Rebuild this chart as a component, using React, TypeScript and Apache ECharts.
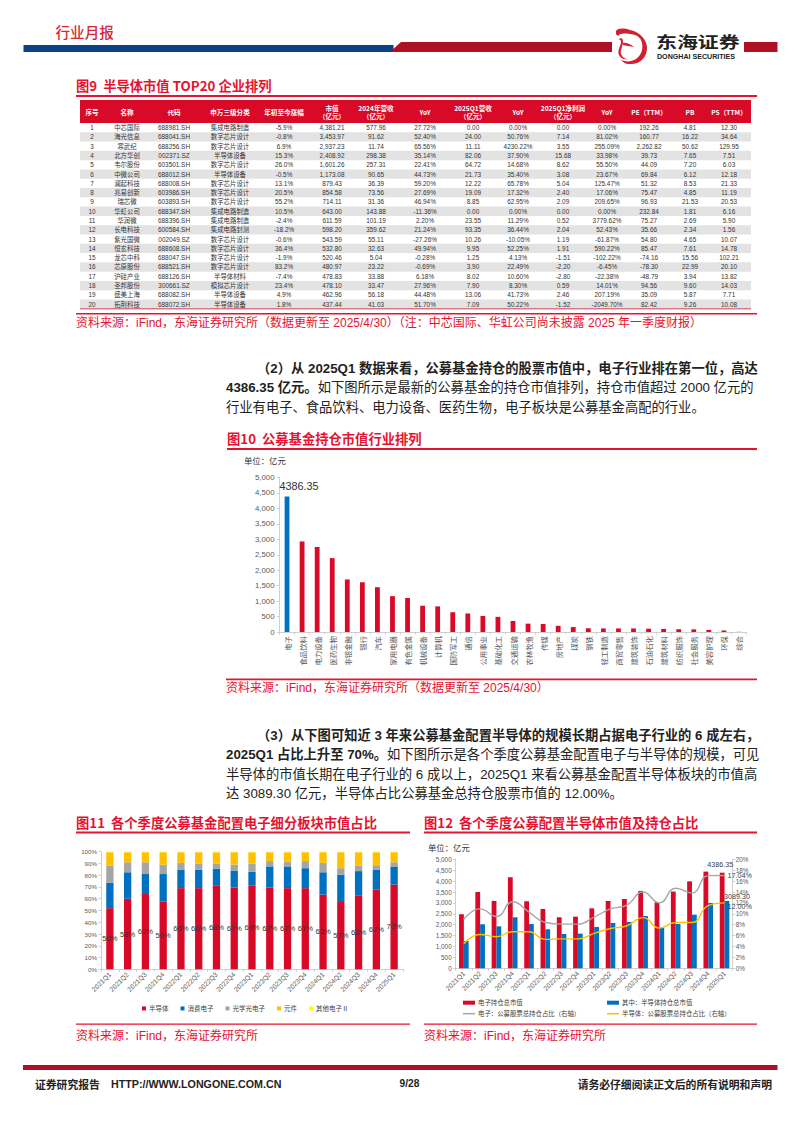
import React, { useEffect, useRef } from "react";
import * as echarts from "echarts";

const FONT = '"Liberation Sans","Noto Sans CJK SC",sans-serif';
const CJK = '"Noto Sans CJK SC","Liberation Sans",sans-serif';
const RED = "#d90a27";
const BLUE = "#0070c0";
const TITLE_RED = "#e5132f";

echarts.graphic.registerShape(
  "dhLogo",
  echarts.graphic.extendPath(
    "M15,2 C26,4 32,13 32,20 C32,30 24,37 14,36 C10,36 8,34 6,32 C11,34 16,34 21,31 C27,27 29,19 26,12 C24,8 19,6 14,6 Z M1,3 C3,0 9,0 15,2 L15,6 C10,5 7,6 5,6 C4,8 2,8 1,6 Z M3,12 C6,9 8,10 8,14 C8,18 5,22 6,26 C7,29 10,31 13,31 C10,32 6,31 4,27 C2,22 6,18 6,14 C6,12 5,11 3,12 Z M8,15 C12,14 16,17 19,19 C15,18 11,18 8,17 Z",
    {}
  )
);

const tableHeaders = ["序号", "名称", "代码", "申万三级分类", "年初至今涨幅", "市值\n（亿元）", "2024年营收\n（亿元）", "YoY", "2025Q1营收\n（亿元）", "YoY", "2025Q1净利润\n（亿元）", "YoY", "PE（TTM）", "PB", "PS（TTM）"];
const tableRows = [
  ["1", "中芯国际", "688981.SH", "集成电路制造", "-5.9%", "4,381.21", "577.96", "27.72%", "0.00", "0.00%", "0.00", "0.00%", "192.26", "4.81", "12.30"],
  ["2", "海光信息", "688041.SH", "数字芯片设计", "-0.8%", "3,453.97", "91.62", "52.40%", "24.00", "50.76%", "7.14", "81.02%", "160.77", "16.22", "34.64"],
  ["3", "寒武纪", "688256.SH", "数字芯片设计", "6.9%", "2,937.23", "11.74", "65.56%", "11.11", "4230.22%", "3.55", "255.09%", "2,262.82", "50.62", "129.95"],
  ["4", "北方华创", "002371.SZ", "半导体设备", "15.3%", "2,408.92", "298.38", "35.14%", "82.06", "37.90%", "15.68", "33.98%", "39.73", "7.65", "7.51"],
  ["5", "韦尔股份", "603501.SH", "数字芯片设计", "26.0%", "1,601.26", "257.31", "22.41%", "64.72", "14.68%", "8.62", "55.50%", "44.09", "7.20", "6.03"],
  ["6", "中微公司", "688012.SH", "半导体设备", "-0.5%", "1,173.08", "90.65", "44.73%", "21.73", "35.40%", "3.08", "23.67%", "69.84", "6.12", "12.18"],
  ["7", "澜起科技", "688008.SH", "数字芯片设计", "13.1%", "879.43", "36.39", "59.20%", "12.22", "65.78%", "5.04", "125.47%", "51.32", "8.53", "21.33"],
  ["8", "兆易创新", "603986.SH", "数字芯片设计", "20.5%", "854.58", "73.56", "27.69%", "19.09", "17.32%", "2.40", "17.06%", "75.47", "4.85", "11.19"],
  ["9", "瑞芯微", "603893.SH", "数字芯片设计", "55.2%", "714.11", "31.36", "46.94%", "8.85", "62.95%", "2.09", "209.65%", "96.93", "21.53", "20.53"],
  ["10", "华虹公司", "688347.SH", "集成电路制造", "10.5%", "643.00", "143.88", "-11.36%", "0.00", "0.00%", "0.00", "0.00%", "232.84", "1.81", "6.16"],
  ["11", "华润微", "688396.SH", "集成电路制造", "-2.4%", "611.59", "101.19", "2.20%", "23.55", "11.29%", "0.52", "3779.62%", "75.27", "2.69", "5.90"],
  ["12", "长电科技", "600584.SH", "集成电路封测", "-18.2%", "598.20", "359.62", "21.24%", "93.35", "36.44%", "2.04", "52.43%", "35.66", "2.34", "1.56"],
  ["13", "紫光国微", "002049.SZ", "数字芯片设计", "-0.6%", "543.59", "55.11", "-27.26%", "10.26", "-10.05%", "1.19", "-61.87%", "54.80", "4.65", "10.07"],
  ["14", "恒玄科技", "688608.SH", "数字芯片设计", "36.4%", "532.80", "32.63", "49.94%", "9.95", "52.25%", "1.91", "590.22%", "85.47", "7.61", "14.78"],
  ["15", "龙芯中科", "688047.SH", "数字芯片设计", "-1.9%", "520.46", "5.04", "-0.28%", "1.25", "4.13%", "-1.51", "-102.22%", "-74.16", "15.56", "102.21"],
  ["16", "芯原股份", "688521.SH", "数字芯片设计", "83.2%", "480.97", "23.22", "-0.69%", "3.90", "22.49%", "-2.20", "-6.45%", "-78.30", "22.99", "20.10"],
  ["17", "沪硅产业", "688126.SH", "半导体材料", "-7.4%", "478.83", "33.88", "6.18%", "8.02", "10.60%", "-2.80", "-22.38%", "-48.79", "3.94", "13.82"],
  ["18", "圣邦股份", "300661.SZ", "模拟芯片设计", "23.4%", "478.10", "33.47", "27.96%", "7.90", "8.30%", "0.59", "14.01%", "94.56", "9.60", "14.03"],
  ["19", "盛美上海", "688082.SH", "半导体设备", "4.9%", "462.96", "56.18", "44.48%", "13.06", "41.73%", "2.46", "207.19%", "35.09", "5.87", "7.71"],
  ["20", "拓荆科技", "688072.SH", "半导体设备", "1.8%", "437.44", "41.03", "51.70%", "7.09", "50.22%", "-1.52", "-2049.70%", "82.42", "9.26", "10.08"],
];

const industryNames = ["电子", "食品饮料", "电力设备", "医药生物", "非银金融", "银行", "汽车", "家用电器", "有色金属", "机械设备", "计算机", "国防军工", "通信", "公用事业", "基础化工", "交通运输", "农林牧渔", "传媒", "房地产", "煤炭", "钢铁", "轻工制造", "商贸零售", "建筑装饰", "石油石化", "建筑材料", "纺织服饰", "社会服务", "美容护理", "环保", "综合"];
const industryValues = [4386.35, 2930, 2750, 2390, 1700, 1610, 1450, 1160, 1100, 850, 830, 640, 600, 520, 490, 360, 270, 260, 200, 160, 120, 115, 115, 115, 105, 100, 90, 85, 70, 50, 5];

const quarters = ["2021Q1", "2021Q2", "2021Q3", "2021Q4", "2022Q1", "2022Q2", "2022Q3", "2022Q4", "2023Q1", "2023Q2", "2023Q3", "2023Q4", "2024Q1", "2024Q2", "2024Q3", "2024Q4", "2025Q1"];
const shareSemi = [52, 60, 64, 57.5, 69, 69, 71, 69.5, 71, 69.5, 69, 69, 63.5, 58, 62.5, 68, 72];
const shareConsumer = [21.5, 22.5, 17, 23.5, 15.5, 15.5, 14.5, 14.5, 12, 18, 18.5, 17, 19, 22.5, 21, 16.5, 15];
const shareOptical = [14.5, 8.5, 10, 8, 6, 5.5, 4.5, 5, 7, 4.5, 4, 6, 8, 5.5, 4.5, 4, 4];
const shareComponent = [11.5, 8.5, 8.5, 10.5, 9, 9.5, 9.5, 10.5, 9.5, 7.5, 8, 7.5, 9, 13.5, 11.5, 11, 8.5];
const shareOther = [0.5, 0.5, 0.5, 0.5, 0.5, 0.5, 0.5, 0.5, 0.5, 0.5, 0.5, 0.5, 0.5, 0.5, 0.5, 0.5, 0.5];
const semiLabels = ["50%", "58%", "62%", "56%", "66%", "66%", "68%", "67%", "69%", "67%", "67%", "67%", "62%", "57%", "62%", "67%", "70%"];

const elecValue = [2480, 3500, 3090, 4175, 3075, 2720, 2340, 2370, 2750, 3090, 3180, 3550, 3030, 3520, 3990, 4435, 4386.35];
const semiValue = [1250, 2020, 1925, 2340, 2030, 1790, 1575, 1590, 1895, 2080, 2125, 2400, 1865, 2035, 2460, 3000, 3089.3];
const elecRatio = [9.0, 10.9, 9.5, 12.2, 10.3, 8.4, 8.1, 8.1, 9.4, 10.9, 11.6, 14.0, 12.0, 14.7, 13.8, 17.0, 17.04];
const semiRatio = [4.5, 6.2, 5.8, 6.7, 6.7, 5.3, 5.4, 5.4, 6.4, 7.3, 7.8, 9.3, 7.4, 8.4, 8.4, 11.5, 12.0];

const para2 = [
  "{b|（2）从 2025Q1 数据来看，公募基金持仓的股票市值中，电子行业排在第一位，高达}",
  "{b|4386.35 亿元。}{n|如下图所示是最新的公募基金的持仓市值排列，持仓市值超过 2000 亿元的}",
  "{n|行业有电子、食品饮料、电力设备、医药生物，电子板块是公募基金高配的行业。}",
];
const para3 = [
  "{b|（3）从下图可知近 3 年来公募基金配置半导体的规模长期占据电子行业的 6 成左右，}",
  "{b|2025Q1 占比上升至 70%。}{n|如下图所示是各个季度公募基金配置电子与半导体的规模，可见}",
  "{n|半导体的市值长期在电子行业的 6 成以上，2025Q1 来看公募基金配置半导体板块的市值高}",
  "{n|达 3089.30 亿元，半导体占比公募基金总持仓股票市值的 12.00%。}",
];

function txt(text: string, x: number, y: number, o: any = {}) {
  const align = o.align || "left";
  return {
    type: "text",
    x,
    y,
    scaleX: o.scaleX || 1,
    silent: true,
    style: {
      text,
      x: 0,
      y: 0,
      fontSize: o.size || 12,
      fontFamily: o.family || CJK,
      fontWeight: o.weight || "normal",
      fill: o.fill || "#333",
      align,
      textAlign: align,
      verticalAlign: "middle",
      textVerticalAlign: "middle",
      lineHeight: o.lineHeight,
      rich: o.rich,
    },
  };
}
const box = (x: number, y: number, w: number, h: number, fill: string) => ({ type: "rect", silent: true, shape: { x, y, width: w, height: h }, style: { fill } });

function pageGraphics() {
  const g: any[] = [];
  // header band
  g.push(txt("行业月报", 55.5, 31.5, { size: 14.6, weight: "500", fill: "#d7263a" }));
  g.push(box(23.5, 45, 370, 7, "#0b4287"));
  g.push({ type: "polygon", silent: true, shape: { points: [[401, 42], [612, 42], [612, 52], [390, 52]] }, style: { fill: "#ae1024" } });
  g.push(box(744, 42, 33.5, 10, "#ae1024"));
  g.push({ type: "dhLogo", x: 615, y: 28, style: { fill: "#d41f2d" } });
  g.push(txt("东海证券", 656, 41.5, { size: 15.4, weight: "bold", fill: "#222", scaleX: 1.36 }));
  g.push(txt("DONGHAI SECURITIES", 657, 56.7, { size: 7.1, weight: "bold", fill: "#222", family: FONT }));

  // figure 9 table
  g.push(txt("图9  半导体市值 TOP20 企业排列", 76, 85.5, { size: 13.3, weight: "bold", fill: TITLE_RED }));
  g.push(box(76, 95, 681, 2, TITLE_RED));
  const colX = [92, 127, 174, 230, 284, 332, 376, 425, 473, 518, 563, 607, 649, 690, 729];
  const top = 123;
  const rowH = 9.29;
  g.push(box(80, 100, 671, top - 100, RED));
  tableHeaders.forEach((h, i) => {
    g.push(txt(h, colX[i], 112, { size: 6.6, weight: "bold", fill: "#fff", align: "center", lineHeight: 8.7 }));
  });
  tableRows.forEach((row, r) => {
    if (r % 2 === 1) g.push(box(80, top + r * rowH, 671, rowH, "#e3e3e3"));
    row.forEach((c, i) => {
      g.push(txt(c, colX[i], top + r * rowH + rowH / 2, { size: 6.4, align: "center", family: FONT, fill: "#333" }));
    });
  });
  g.push(box(80, 308.4, 671, 0.8, "#d0021b"));
  g.push(box(76, 313, 681, 1.6, TITLE_RED));
  g.push(txt("资料来源：iFind，东海证券研究所（数据更新至 2025/4/30）（注：中芯国际、华虹公司尚未披露 2025 年一季度财报）", 76, 322.8, { size: 12, fill: TITLE_RED, family: FONT }));

  // paragraph 2
  const rich = {
    b: { fontSize: 13.3, fontWeight: "bold", fontFamily: FONT, fill: "#222" },
    n: { fontSize: 13.3, fontFamily: FONT, fill: "#222" },
  };
  para2.forEach((l, i) => g.push(txt(l, i === 0 ? 257 : 226, 368 + i * 19.7, { rich })));
  g.push(txt("图10  公募基金持仓市值行业排列", 227, 438.3, { size: 13.3, weight: "bold", fill: TITLE_RED }));
  g.push(box(227, 448, 530, 2, TITLE_RED));
  g.push(txt("单位：亿元", 244, 460, { size: 8.4, fill: "#333" }));
  g.push(box(226, 678.6, 531, 1.6, TITLE_RED));
  g.push(txt("资料来源：iFind，东海证券研究所（数据更新至 2025/4/30）", 226, 687.5, { size: 12, fill: TITLE_RED, family: FONT }));

  // paragraph 3
  para3.forEach((l, i) => g.push(txt(l, i === 0 ? 257 : 226, 735 + i * 19.6, { rich })));

  // figures 11 & 12
  g.push(txt("图11  各个季度公募基金配置电子细分板块市值占比", 76, 822, { size: 13.3, weight: "bold", fill: TITLE_RED }));
  g.push(box(76, 831.6, 334, 2, TITLE_RED));
  g.push(txt("图12  各个季度公募配置半导体市值及持仓占比", 424, 822, { size: 13.3, weight: "bold", fill: TITLE_RED }));
  g.push(box(424, 831.6, 333, 2, TITLE_RED));
  g.push(txt("单位：亿元", 428, 846.5, { size: 8.4, fill: "#333" }));
  g.push(box(76, 1023.4, 334, 1.4, TITLE_RED));
  g.push(box(424, 1023.4, 333, 1.4, TITLE_RED));
  g.push(txt("资料来源：iFind，东海证券研究所", 76, 1036, { size: 12, fill: TITLE_RED, family: FONT }));
  g.push(txt("资料来源：iFind，东海证券研究所", 424, 1036, { size: 12, fill: TITLE_RED, family: FONT }));

  // footer
  g.push(box(23, 1065, 754.5, 5, "#ae1024"));
  g.push(txt("证券研究报告", 35, 1083.5, { size: 10.8, weight: "bold", fill: "#222" }));
  g.push(txt("HTTP://WWW.LONGONE.COM.CN", 111, 1083.5, { size: 10.7, weight: "bold", fill: "#222", family: FONT }));
  g.push(txt("9/28", 409.5, 1083.5, { size: 10.2, weight: "bold", fill: "#222", family: FONT, align: "center" }));
  g.push(txt("请务必仔细阅读正文后的所有说明和声明", 772, 1083.5, { size: 10.8, weight: "bold", fill: "#222", align: "right" }));
  return g;
}

const axisLine = { show: true, lineStyle: { color: "#c4c4c4", width: 0.8 } };
const axisTick = { show: true, length: 2.5, lineStyle: { color: "#c4c4c4", width: 0.8 } };
const thousands = (v: number) => String(v).replace(/\B(?=(\d{3})+$)/, ",");

function lastLabel(values: number[], text: string, label: any) {
  return values.map((v, i) => (i === values.length - 1 ? { value: v, label: { show: true, formatter: text, fontFamily: FONT, fontSize: 7.2, color: "#404040", ...label } } : v));
}

function buildOption() {
  return {
    animation: false,
    backgroundColor: "#fff",
    textStyle: { fontFamily: FONT },
    graphic: { elements: pageGraphics() },
    grid: [
      { left: 279.5, top: 477.5, width: 467, height: 154.5 },
      { left: 101, top: 851.7, width: 302, height: 117.6 },
      { left: 455.7, top: 859.3, width: 277, height: 109 },
    ],
    xAxis: [
      {
        gridIndex: 0, type: "category", data: industryNames, axisLine, axisTick,
        axisLabel: { rotate: 90, interval: 0, fontSize: 7.4, color: "#595959", fontFamily: CJK, margin: 4 },
      },
      {
        gridIndex: 1, type: "category", data: quarters, axisLine, axisTick,
        axisLabel: { rotate: 45, interval: 0, fontSize: 6.8, color: "#595959", margin: 4 },
      },
      {
        gridIndex: 2, type: "category", data: quarters, axisLine, axisTick,
        axisLabel: { rotate: 45, interval: 0, fontSize: 6.8, color: "#595959", margin: 4 },
      },
    ],
    yAxis: [
      {
        gridIndex: 0, type: "value", min: 0, max: 5000, interval: 500, axisLine, axisTick, splitLine: { show: false },
        axisLabel: { fontSize: 7.8, color: "#595959", formatter: thousands, margin: 5 },
      },
      {
        gridIndex: 1, type: "value", min: 0, max: 100, interval: 10, axisLine, axisTick, splitLine: { show: false },
        axisLabel: { fontSize: 6.2, color: "#595959", formatter: "{value}%", margin: 4 },
      },
      {
        gridIndex: 2, type: "value", min: 0, max: 5000, interval: 500, axisLine, axisTick, splitLine: { show: false },
        axisLabel: { fontSize: 6.4, color: "#595959", formatter: thousands, margin: 4 },
      },
      {
        gridIndex: 2, type: "value", position: "right", min: 0, max: 20, interval: 2, axisLine, axisTick, splitLine: { show: false },
        axisLabel: { fontSize: 6.4, color: "#595959", formatter: "{value}%", margin: 3 },
      },
    ],
    legend: [
      {
        left: 142, top: 1005.2, itemWidth: 4, itemHeight: 4, itemGap: 12, icon: "rect", padding: 0,
        data: ["半导体", "消费电子", "光学光电子", "元件", "其他电子Ⅱ"],
        textStyle: { fontSize: 6.5, color: "#404040", fontFamily: CJK, padding: [0, 0, 0, -2] },
      },
      legendItem("电子持仓总市值", 463, 999.5, 4),
      legendItem("其中：半导体持仓总市值", 607, 999.5, 4),
      legendItem("电子：公募股票总持仓占比（右轴）", 463, 1010.5, 1.5),
      legendItem("半导体：公募股票总持仓占比（右轴）", 607, 1010.5, 1.5),
    ],
    series: [
      {
        type: "bar", xAxisIndex: 0, yAxisIndex: 0, barWidth: 4.8,
        data: industryValues.map((v, i) => (i === 0
          ? { value: v, itemStyle: { color: BLUE }, label: { show: true, position: "top", formatter: "4386.35", fontSize: 10.8, color: "#333", fontFamily: FONT, distance: 5, offset: [12, 0] } }
          : v)),
        itemStyle: { color: RED },
      },
      stackBar("半导体", shareSemi, RED, true),
      stackBar("消费电子", shareConsumer, BLUE),
      stackBar("光学光电子", shareOptical, "#a5a5a5"),
      stackBar("元件", shareComponent, "#ffc000"),
      stackBar("其他电子Ⅱ", shareOther, "#ffff00"),
      {
        name: "电子持仓总市值", type: "bar", xAxisIndex: 2, yAxisIndex: 2, barWidth: 4.8, barGap: "0%",
        itemStyle: { color: RED }, z: 2,
        data: lastLabel(elecValue, "4386.35", { position: "top", distance: 5, offset: [-2, 0] }),
      },
      {
        name: "其中：半导体持仓总市值", type: "bar", xAxisIndex: 2, yAxisIndex: 2, barWidth: 4.8, barGap: "0%",
        itemStyle: { color: BLUE }, z: 2,
        data: lastLabel(semiValue, "3089.30", { position: "top", distance: 1, offset: [10, 0] }),
      },
      {
        name: "电子：公募股票总持仓占比（右轴）", type: "line", xAxisIndex: 2, yAxisIndex: 3, smooth: 0.5, showSymbol: false, symbol: "none", z: 5,
        lineStyle: { color: "#a6a6a6", width: 1.4 }, itemStyle: { color: "#a6a6a6" },
        endLabel: { show: true, formatter: "17.04%", fontFamily: FONT, fontSize: 7.2, color: "#404040", distance: 3 },
        data: elecRatio,
      },
      {
        name: "半导体：公募股票总持仓占比（右轴）", type: "line", xAxisIndex: 2, yAxisIndex: 3, smooth: 0.5, showSymbol: false, symbol: "none", z: 5,
        lineStyle: { color: "#ffc000", width: 1.4 }, itemStyle: { color: "#ffc000" },
        endLabel: { show: true, formatter: "12.00%", fontFamily: FONT, fontSize: 7.2, color: "#404040", distance: 3, offset: [0, 4] },
        data: semiRatio,
      },
    ],
  };
}

function legendItem(name: string, left: number, top: number, h: number) {
  return {
    left, top, itemWidth: 12, itemHeight: h, icon: "rect", padding: 0, data: [name],
    textStyle: { fontSize: 6.4, color: "#404040", fontFamily: CJK, padding: [0, 0, 0, -2] },
  };
}

function stackBar(name: string, data: number[], color: string, labelled = false) {
  return {
    name, type: "bar", stack: "share", xAxisIndex: 1, yAxisIndex: 1, barWidth: 7.3, data,
    itemStyle: { color },
    label: labelled
      ? { show: true, position: "inside", fontSize: 7.6, color: "#333", textBorderWidth: 0, fontFamily: FONT, formatter: (p: any) => semiLabels[p.dataIndex] }
      : { show: false },
  };
}

export default function App() {
  const ref = useRef<HTMLDivElement>(null);
  useEffect(() => {
    const chart = echarts.init(ref.current!, undefined, { renderer: "svg" });
    chart.setOption(buildOption() as any);
    return () => chart.dispose();
  }, []);
  return <div ref={ref} style={{ position: "absolute", left: 0, top: 0, width: 794, height: 1123, background: "#fff" }} />;
}
